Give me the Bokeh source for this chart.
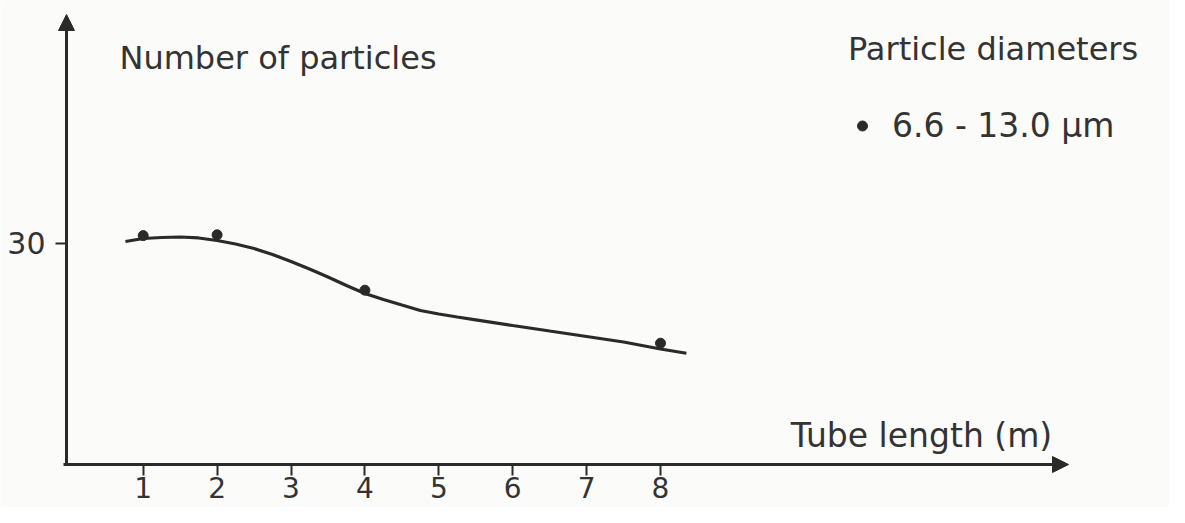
from bokeh.plotting import figure
from bokeh.models import Range1d, FixedTicker, Label, Arrow, NormalHead, Legend, LegendItem
from bokeh.embed import file_html
from bokeh.resources import INLINE

# ---- data ----
tube_length_m = [1, 2, 4, 8]
particle_count = [31.0, 31.1, 23.8, 16.8]
fit_length_m = [0.76, 1.0, 1.25, 1.5, 1.75, 2.0, 2.25, 2.5, 2.75, 3.0, 3.25, 3.5, 3.75,
                4.0, 4.25, 4.5, 4.75, 5.0, 5.25, 5.5, 6.0, 6.5, 7.0, 7.5, 8.0, 8.35]
fit_count = [30.22, 30.62, 30.75, 30.82, 30.69, 30.36, 29.89, 29.30, 28.51, 27.59, 26.60,
             25.54, 24.42, 23.36, 22.57, 21.84, 21.12, 20.65, 20.26, 19.89, 19.14, 18.41,
             17.69, 16.96, 16.04, 15.48]
x_tick_values = [1, 2, 3, 4, 5, 6, 7, 8]
y_tick_values = [30]
legend_title = "Particle diameters"
series_label = "6.6 - 13.0 \u03bcm"
x_title = "Tube length (m)"
y_title = "Number of particles"

# ---- layout (picture pixels -> data) ----
W, H = 1169, 507
PX_PER_X = 73.9
PX_PER_Y = 7.577
X0 = 1 - 142.7 / PX_PER_X          # data x at the canvas left edge
Y_TOP = 30 + 242.7 / PX_PER_Y      # data y at the canvas top edge


def dx(px):
    return X0 + px / PX_PER_X


def dy(py):
    return Y_TOP - py / PX_PER_Y


INK = "#2a2a2a"
TXT = "#333333"
PAPER = "#fbfbf9"
FONT = "DejaVu Sans"

p = figure(width=W, height=H, output_backend="svg", toolbar_location=None,
           x_range=Range1d(dx(0), dx(W)),
           y_range=Range1d(dy(H), dy(0)),
           min_border=0, min_border_left=0, min_border_right=0,
           min_border_top=0, min_border_bottom=0,
           background_fill_color=PAPER, border_fill_color=PAPER,
           outline_line_color=None)
p.grid.visible = False

AXIS_Y = dy(464)   # where the horizontal axis is drawn
AXIS_X = dx(66)    # where the vertical axis is drawn

p.xaxis.fixed_location = AXIS_Y
p.yaxis.fixed_location = AXIS_X
p.xaxis.ticker = FixedTicker(ticks=x_tick_values)
p.yaxis.ticker = FixedTicker(ticks=y_tick_values)
for ax in (p.xaxis, p.yaxis):
    ax.axis_line_color = None
    ax.minor_tick_line_color = None
    ax.major_tick_line_color = INK
    ax.major_tick_line_width = 2
    ax.major_tick_in = 0
    ax.major_label_text_font = FONT
    ax.major_label_text_color = TXT
p.xaxis.major_label_text_font_size = "28px"
p.yaxis.major_label_text_font_size = "30px"
p.xaxis.major_tick_out = 11
p.xaxis.major_label_standoff = 1
p.yaxis.major_tick_out = 11
p.yaxis.major_label_standoff = 10

# axis lines with arrow heads
p.add_layout(Arrow(end=NormalHead(size=16, fill_color=INK, line_color=INK),
                   x_start=dx(63), y_start=AXIS_Y, x_end=dx(1068), y_end=AXIS_Y,
                   line_color=INK, line_width=3))
p.add_layout(Arrow(end=NormalHead(size=16, fill_color=INK, line_color=INK),
                   x_start=AXIS_X, y_start=dy(465.5), x_end=AXIS_X, y_end=dy(14),
                   line_color=INK, line_width=3))

# fitted curve and measured points
p.line(fit_length_m, fit_count, line_color=INK, line_width=3.2)
pts = p.scatter(tube_length_m, particle_count, size=10, color=INK)

# axis titles
p.add_layout(Label(x=dx(277.5), y=dy(57), text=y_title, text_align="center",
                   text_baseline="alphabetic", text_font=FONT,
                   text_font_size="32px", text_color=TXT))
p.add_layout(Label(x=dx(921), y=dy(435), text=x_title, text_align="center",
                   text_baseline="alphabetic", text_font=FONT,
                   text_font_size="33px", text_color=TXT))

# legend
legend = Legend(items=[LegendItem(label=series_label, renderers=[pts])],
                location=(848, 362), title=legend_title,
                title_text_font=FONT, title_text_font_size="32px",
                title_text_font_style="normal", title_text_color=TXT,
                title_standoff=38,
                label_text_font=FONT, label_text_font_size="33px",
                label_text_color=TXT, label_standoff=16,
                glyph_width=28, glyph_height=25,
                padding=0, margin=0, spacing=0,
                background_fill_alpha=0, border_line_color=None)
p.add_layout(legend)

open("out.html", "w").write(file_html(p, INLINE))
